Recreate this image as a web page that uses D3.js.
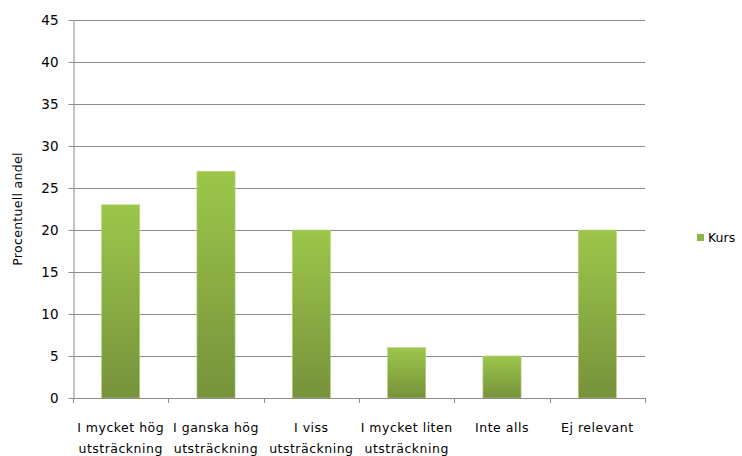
<!DOCTYPE html>
<html><head><meta charset="utf-8">
<script src="https://cdn.jsdelivr.net/npm/d3@7"></script>
<style>body{margin:0;background:#fff}svg{display:block}text{font-family:"DejaVu Sans",sans-serif;fill:#000}</style>
</head><body><svg id="c" width="742" height="456"></svg>
<script>
const categories = [["I mycket hög","utsträckning"],["I ganska hög","utsträckning"],["I viss","utsträckning"],["I mycket liten","utsträckning"],["Inte alls"],["Ej relevant"]];
const values = [23, 27, 20, 6, 5, 20];
const yTicks = [0,5,10,15,20,25,30,35,40,45];
const seriesName = "Kurs";
const yTitle = "Procentuell andel";

const svg = d3.select("#c");
const m = {l:73, r:645, t:20, b:398};
const x = d3.scaleBand().domain(d3.range(values.length)).range([m.l, m.r]).paddingInner(0.6).paddingOuter(0.3);
const y = d3.scaleLinear().domain([0,45]).range([m.b, m.t]);

const defs = svg.append("defs");
const g = defs.append("linearGradient").attr("id","gr").attr("x1",0).attr("y1",0).attr("x2",0).attr("y2",1);
g.append("stop").attr("offset","0%").attr("stop-color","#9dc64b");
g.append("stop").attr("offset","100%").attr("stop-color","#76923b");

// gridlines
svg.append("g").selectAll("line").data(yTicks.filter(d=>d>0)).join("line")
  .attr("x1",m.l).attr("x2",m.r).attr("y1",d=>Math.round(y(d))+0.5).attr("y2",d=>Math.round(y(d))+0.5)
  .attr("stroke","#8c8c8c").attr("stroke-width",1);

// y axis
const ya = svg.append("g").attr("transform",`translate(${m.l+0.5},0)`)
  .call(d3.axisLeft(y).tickValues(yTicks).tickSize(5).tickSizeOuter(0));
ya.select(".domain").attr("stroke","#8c8c8c");
ya.selectAll(".tick line").attr("stroke","#8c8c8c");
ya.selectAll(".tick text").attr("font-size",13.5).attr("font-family","DejaVu Sans").attr("x",-15).attr("fill","#000");

// bars
svg.append("g").selectAll("rect").data(values).join("rect")
  .attr("x",(d,i)=>x(i)).attr("width",x.bandwidth())
  .attr("y",d=>y(d)).attr("height",d=>y(0)-y(d))
  .attr("fill","url(#gr)").attr("stroke","#b5d47e").attr("stroke-width",0.6);

// x axis
const step = (m.r-m.l)/values.length;
const xa = svg.append("g");
xa.append("line").attr("x1",m.l).attr("x2",m.r).attr("y1",m.b+0.5).attr("y2",m.b+0.5).attr("stroke","#8c8c8c");
xa.selectAll("line.t").data(d3.range(values.length+1)).join("line").attr("class","t")
  .attr("x1",i=>Math.round(m.l+i*step)+0.5).attr("x2",i=>Math.round(m.l+i*step)+0.5)
  .attr("y1",m.b).attr("y2",m.b+5).attr("stroke","#8c8c8c");
xa.selectAll("text").data(categories).join("text")
  .attr("text-anchor","middle").attr("font-size",12.5).attr("letter-spacing","0.5px")
  .attr("transform",(d,i)=>`translate(${x(i)+x.bandwidth()/2},432)`)
  .selectAll("tspan").data(d=>d).join("tspan").attr("x",0).attr("dy",(d,j)=>j? "1.7em":0).text(d=>d);

// y title
svg.append("text").attr("transform","translate(22,209) rotate(-90)").attr("text-anchor","middle")
  .attr("font-size",12.5).attr("letter-spacing","0.3px").text(yTitle);

// legend
svg.append("rect").attr("x",697).attr("y",234).attr("width",7).attr("height",7).attr("fill","#8db543");
svg.append("text").attr("x",708).attr("y",242).attr("font-size",12.5).attr("fill","#333").text(seriesName);
</script></body></html>
